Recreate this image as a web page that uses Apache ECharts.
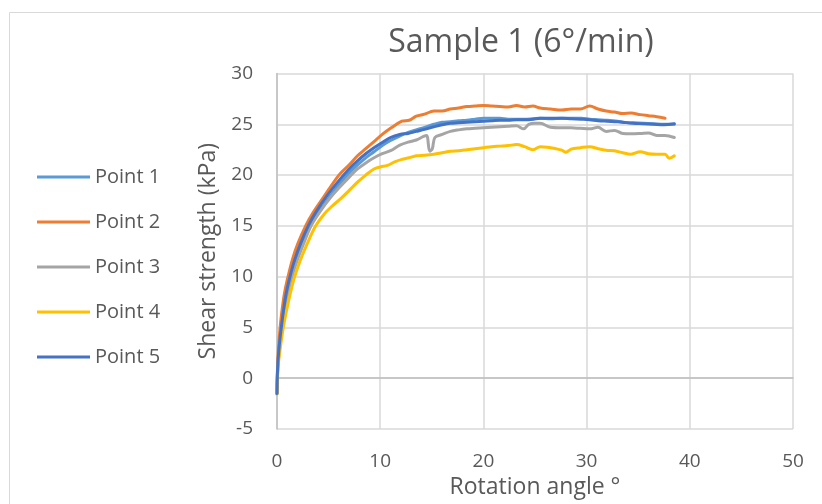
<!DOCTYPE html>
<html>
<head>
<meta charset="utf-8">
<script src="https://cdn.jsdelivr.net/npm/echarts@6/dist/echarts.min.js"></script>
<style>
  html, body { margin: 0; padding: 0; background: #ffffff; overflow: hidden; }
  #chart { width: 822px; height: 504px; }
</style>
</head>
<body>
<div id="chart"></div>
<script>
// Shear vane test, sample 1 at 6°/min: shear strength (kPa) against rotation angle (°)
const seriesNames = ['Point 1', 'Point 2', 'Point 3', 'Point 4', 'Point 5'];
const seriesColors = ['#5B9BD5', '#ED7D31', '#A5A5A5', '#FFC000', '#4472C4'];

const xTicks = [0, 10, 20, 30, 40, 50];
const yTicks = [-5, 0, 5, 10, 15, 20, 25, 30];

const p1Angle = [0, 0.07, 0.22, 0.45, 0.7, 0.97, 1.35, 1.8, 2.45, 3.2, 4.0, 5.0, 6.2, 7.0, 7.8, 8.6, 9.4, 10.2, 11.0, 11.9, 12.7, 13.5, 14.3, 15.2, 16.0, 16.8, 17.6, 18.4, 19.2, 20.0, 20.8, 21.6, 22.4, 23.2, 24.0, 24.8, 25.5, 26.5, 27.6, 28.5, 29.5, 30.3, 31.1, 32.0, 33.0, 33.5, 34.5, 35.5, 36.5, 37.5, 38.5];
const p1Shear = [-1.5, 1.0, 3.0, 5.0, 6.8, 8.4, 10.0, 11.6, 13.3, 15.0, 16.3, 17.7, 19.3, 20.2, 21.0, 21.7, 22.3, 22.9, 23.4, 23.85, 24.2, 24.45, 24.7, 25.0, 25.2, 25.25, 25.35, 25.4, 25.5, 25.6, 25.6, 25.6, 25.5, 25.5, 25.5, 25.55, 25.6, 25.55, 25.6, 25.6, 25.6, 25.5, 25.45, 25.4, 25.3, 25.2, 25.15, 25.1, 25.05, 25.0, 25.0];

const p2Angle = [0, 0.05, 0.15, 0.3, 0.5, 0.75, 1.07, 1.5, 2.0, 2.78, 3.5, 4.5, 6.0, 7.0, 7.8, 8.6, 9.4, 10.2, 11.0, 12.1, 12.8, 13.5, 14.3, 15.2, 16.0, 16.8, 17.6, 18.4, 19.2, 20.0, 20.8, 21.6, 22.4, 23.2, 24.0, 24.8, 25.5, 26.5, 27.6, 28.5, 29.4, 30.3, 31.1, 31.9, 32.7, 33.5, 34.3, 35.2, 36.0, 36.8, 37.6];
const p2Shear = [-1.4, 1.0, 3.0, 5.0, 6.8, 8.5, 10.0, 11.7, 13.2, 15.0, 16.3, 17.8, 20.0, 21.0, 21.9, 22.6, 23.3, 24.0, 24.6, 25.3, 25.4, 25.8, 26.0, 26.3, 26.3, 26.5, 26.6, 26.75, 26.8, 26.85, 26.8, 26.75, 26.7, 26.85, 26.7, 26.8, 26.6, 26.5, 26.4, 26.5, 26.5, 26.8, 26.5, 26.3, 26.2, 26.05, 26.1, 25.95, 25.85, 25.75, 25.6];

const p3Angle = [0, 0.08, 0.25, 0.5, 0.78, 1.07, 1.45, 1.95, 2.6, 3.3, 4.1, 5.2, 6.2, 7.0, 7.8, 8.6, 9.4, 10.2, 11.0, 11.9, 12.7, 13.5, 14.2, 14.5, 14.8, 15.05, 15.3, 16.0, 16.8, 17.6, 18.4, 19.2, 20.0, 20.8, 21.6, 22.4, 23.2, 23.9, 24.4, 25.0, 25.5, 26.5, 27.6, 28.5, 29.4, 30.3, 31.1, 31.9, 32.7, 33.5, 34.3, 35.2, 36.0, 36.8, 37.6, 38.5];
const p3Shear = [-1.5, 1.0, 3.0, 5.0, 6.8, 8.4, 10.0, 11.6, 13.3, 15.0, 16.3, 17.8, 18.95, 19.8, 20.6, 21.2, 21.7, 22.1, 22.4, 22.95, 23.25, 23.45, 23.8, 23.9, 22.35, 22.6, 23.7, 24.0, 24.3, 24.45, 24.55, 24.6, 24.65, 24.7, 24.75, 24.8, 24.85, 24.55, 25.0, 25.1, 25.1, 24.7, 24.65, 24.65, 24.6, 24.55, 24.7, 24.3, 24.4, 24.1, 24.07, 24.1, 24.15, 23.9, 23.9, 23.7];

const p4Angle = [0, 0.1, 0.32, 0.61, 0.95, 1.3, 1.71, 2.25, 2.95, 3.75, 4.6, 5.4, 6.2, 7.0, 7.8, 8.6, 9.4, 10.0, 10.7, 11.4, 12.1, 12.8, 13.5, 14.3, 15.2, 16.0, 16.8, 17.6, 18.4, 19.2, 20.0, 20.8, 21.6, 22.4, 23.2, 24.0, 24.8, 25.5, 26.2, 27.0, 27.6, 28.0, 28.5, 29.4, 30.3, 31.1, 31.9, 32.7, 33.5, 34.3, 35.2, 36.0, 36.8, 37.6, 38.0, 38.5];
const p4Shear = [-1.6, 1.0, 3.0, 5.0, 6.8, 8.4, 10.0, 11.6, 13.3, 15.0, 16.2, 17.0, 17.7, 18.5, 19.3, 20.0, 20.6, 20.8, 20.95, 21.3, 21.55, 21.7, 21.9, 21.95, 22.05, 22.2, 22.35, 22.4, 22.5, 22.6, 22.7, 22.8, 22.85, 22.9, 23.0, 22.8, 22.5, 22.8, 22.75, 22.6, 22.45, 22.25, 22.55, 22.7, 22.8, 22.6, 22.45, 22.4, 22.2, 22.05, 22.3, 22.1, 22.05, 22.05, 21.65, 21.9];

const p5Angle = [0, 0.06, 0.2, 0.42, 0.65, 0.9, 1.26, 1.7, 2.3, 3.03, 3.8, 4.87, 6.2, 7.0, 7.8, 8.6, 9.4, 10.2, 11.0, 11.9, 12.7, 13.5, 14.3, 15.2, 16.0, 16.8, 17.6, 18.4, 19.2, 20.0, 20.8, 21.6, 22.4, 23.2, 24.0, 24.8, 25.5, 26.5, 27.6, 28.5, 29.5, 30.3, 31.1, 32.0, 33.0, 33.5, 34.5, 35.5, 36.5, 37.5, 38.5];
const p5Shear = [-1.5, 1.0, 3.0, 5.0, 6.8, 8.4, 10.0, 11.6, 13.3, 15.0, 16.4, 18.0, 19.7, 20.6, 21.4, 22.1, 22.7, 23.2, 23.7, 24.0, 24.1, 24.3, 24.5, 24.75, 24.95, 25.1, 25.15, 25.2, 25.25, 25.3, 25.35, 25.4, 25.4, 25.45, 25.45, 25.5, 25.6, 25.6, 25.6, 25.55, 25.5, 25.45, 25.35, 25.3, 25.25, 25.2, 25.1, 25.05, 25.0, 24.95, 25.05];

const angles = [p1Angle, p2Angle, p3Angle, p4Angle, p5Angle];
const shears = [p1Shear, p2Shear, p3Shear, p4Shear, p5Shear];

const FONT = '"Open Sans", sans-serif';
const TEXT = '#595959';
const GRID = '#d9d9d9';
const AXIS = '#bfbfbf';

const chart = echarts.init(document.getElementById('chart'), null, { renderer: 'canvas', width: 822, height: 504 });

const series = seriesNames.map((name, i) => ({
  name: name,
  type: 'line',
  xAxisIndex: 0,
  yAxisIndex: 0,
  data: angles[i].map((a, k) => [a, shears[i][k]]),
  showSymbol: false,
  symbol: 'none',
  smooth: 0.35,
  color: seriesColors[i],
  lineStyle: { width: 3, color: seriesColors[i], cap: 'round', join: 'round' },
  emphasis: { disabled: true },
  animation: false
}));

const option = {
  backgroundColor: '#ffffff',
  animation: false,
  graphic: [{
    type: 'rect',
    silent: true,
    shape: { x: 9.5, y: 12.5, width: 900, height: 600 },
    style: { fill: 'none', stroke: GRID, lineWidth: 1 }
  }],
  title: {
    text: 'Sample 1 (6°/min)',
    left: 516,
    textAlign: 'center',
    top: 22,
    textStyle: { fontFamily: FONT, fontSize: 32, fontWeight: 'normal', color: TEXT }
  },
  legend: {
    orient: 'vertical',
    left: 37,
    top: 167,
    padding: 0,
    itemWidth: 53,
    itemHeight: 3,
    itemGap: 25,
    icon: 'rect',
    data: seriesNames,
    selectedMode: false,
    textStyle: { fontFamily: FONT, fontSize: 20, lineHeight: 20, color: TEXT }
  },
  grid: { left: 277, width: 516, top: 73.5, height: 359, containLabel: false },
  xAxis: [{
    type: 'value',
    min: xTicks[0],
    max: xTicks[xTicks.length - 1],
    interval: 10,
    position: 'bottom',
    name: 'Rotation angle °',
    nameLocation: 'middle',
    nameGap: 47,
    nameTextStyle: { fontFamily: FONT, fontSize: 23, color: TEXT },
    axisLine: { show: false, onZero: false },
    axisTick: { show: false },
    axisLabel: { margin: 23, fontFamily: FONT, fontSize: 19, color: TEXT },
    splitLine: { show: true, lineStyle: { color: GRID, width: 1.5 } }
  }, {
    // horizontal zero line crossing the plot
    type: 'value',
    min: xTicks[0],
    max: xTicks[xTicks.length - 1],
    position: 'bottom',
    axisLine: { show: true, onZero: true, lineStyle: { color: AXIS, width: 1.5 } },
    axisTick: { show: false },
    axisLabel: { show: false },
    splitLine: { show: false }
  }],
  yAxis: [{
    type: 'value',
    min: yTicks[0],
    max: yTicks[yTicks.length - 1],
    interval: 5,
    name: 'Shear strength (kPa)',
    nameLocation: 'middle',
    nameGap: 56,
    nameTextStyle: { fontFamily: FONT, fontSize: 23, color: TEXT },
    axisLine: { show: true, onZero: false, lineStyle: { color: AXIS, width: 1.5 } },
    axisTick: { show: false },
    axisLabel: { margin: 24, fontFamily: FONT, fontSize: 19, color: TEXT },
    splitLine: { show: true, lineStyle: { color: GRID, width: 1.5 } }
  }],
  series: series
};

chart.setOption(option);
</script>
</body>
</html>
